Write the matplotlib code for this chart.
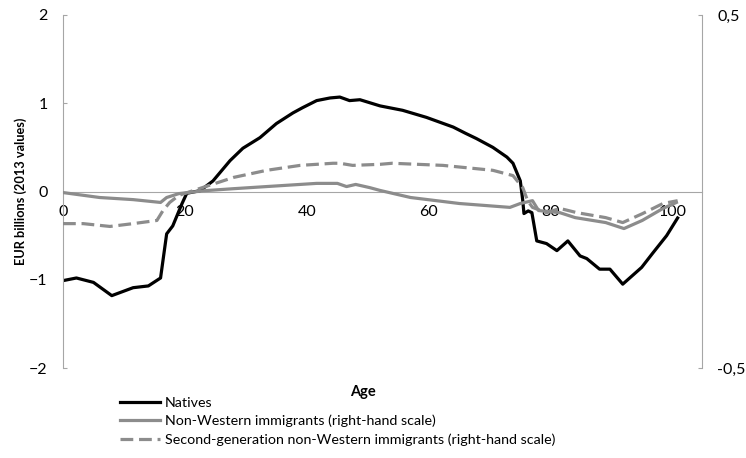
import matplotlib.pyplot as plt

# Natives (left scale, EUR billions)
natives_age = [0, 2.2, 5, 8, 11.5, 14, 16, 17, 18, 19.5, 20.3, 22.5, 24.6, 27.4, 29.5,
               32.3, 35, 37.7, 39.3, 41.6, 43.8, 45.4, 47, 48.7, 52, 55.7, 59.6, 64, 66,
               67.8, 70.5, 72.8, 73.8, 75, 75.4, 75.6, 76.3, 76.9, 77.7, 79.3, 81, 82.8,
               84.8, 85.9, 88, 89.7, 91.8, 94.9, 96.7, 99, 100.8]
natives_val = [-1.01, -0.98, -1.03, -1.18, -1.09, -1.07, -0.98, -0.48, -0.39, -0.14,
               -0.02, 0.01, 0.12, 0.35, 0.49, 0.61, 0.77, 0.89, 0.95, 1.03, 1.06, 1.07,
               1.03, 1.04, 0.97, 0.92, 0.84, 0.73, 0.66, 0.60, 0.50, 0.39, 0.32, 0.12,
               -0.10, -0.25, -0.22, -0.24, -0.56, -0.59, -0.67, -0.56, -0.73, -0.76,
               -0.88, -0.88, -1.05, -0.86, -0.70, -0.50, -0.30]

# Non-Western immigrants (right-hand scale)
immig_age = [0, 6, 11.5, 16, 17, 19, 23, 28, 33.4, 41.6, 45, 46.5, 48, 50.3, 52, 57, 65,
             73.3, 75, 77, 78, 81.5, 84, 89, 92, 95, 98.4, 100.6]
immig_val = [-0.003, -0.017, -0.023, -0.031, -0.017, -0.006, 0.002, 0.008, 0.014, 0.023,
             0.023, 0.014, 0.020, 0.011, 0.003, -0.017, -0.034, -0.045, -0.034, -0.026,
             -0.054, -0.060, -0.074, -0.088, -0.105, -0.082, -0.048, -0.031]

# Second-generation non-Western immigrants (right-hand scale)
second_age = [0, 3.3, 7.7, 11.5, 15.4, 16.4, 17.5, 19, 22.5, 28, 33.4, 38.9, 44.3, 45.4,
              47.5, 52, 54, 62.3, 70.5, 73.8, 75.4, 76.2, 77, 79.3, 81.5, 84.3, 89, 91.8,
              95, 98.4, 100.8]
second_val = [-0.091, -0.091, -0.099, -0.091, -0.082, -0.054, -0.031, -0.011, 0.009, 0.040,
              0.060, 0.074, 0.080, 0.080, 0.074, 0.077, 0.080, 0.074, 0.060, 0.045, 0.011,
              -0.026, -0.045, -0.060, -0.048, -0.060, -0.074, -0.088, -0.063, -0.034, -0.026]

left_ticks = [-2, -1, 0, 1, 2]
right_ticks = [-0.5, 0.5]
right_labels = ["-0,5", "0,5"]
x_ticks = [0, 20, 40, 60, 80, 100]

plt.rcParams["font.family"] = ["Lato", "DejaVu Sans"]
GRAY = "#8c8c8c"
AXIS = "#a6a6a6"

fig = plt.figure(figsize=(7.46, 4.58), dpi=100)
ax = fig.add_axes([63 / 746, 1 - 368 / 458, (702 - 63) / 746, (368 - 15) / 458])
ax2 = ax.twinx()

ln1, = ax.plot(natives_age, natives_val, color="black", lw=2.3, label="Natives")
ln2, = ax2.plot(immig_age, immig_val, color=GRAY, lw=2.3,
                label="Non-Western immigrants (right-hand scale)")
ln3, = ax2.plot(second_age, second_val, color=GRAY, lw=2.3, ls=(0, (4, 1.8)),
                label="Second-generation non-Western immigrants (right-hand scale)")

ax.set_xlim(0, 104.8)
ax.set_ylim(-2, 2)
ax2.set_ylim(-0.5, 0.5)
ax.set_yticks(left_ticks)
ax.set_xticks(x_ticks)
ax2.set_yticks(right_ticks)
ax2.set_yticklabels(right_labels)

for a in (ax, ax2):
    for s in a.spines.values():
        s.set_visible(False)
ax.spines["left"].set_visible(True)
ax.spines["left"].set_color(AXIS)
ax2.spines["right"].set_visible(True)
ax2.spines["right"].set_color(AXIS)
ax.spines["bottom"].set_visible(True)
ax.spines["bottom"].set_position(("data", 0))
ax.spines["bottom"].set_color(AXIS)
ax.spines["bottom"].set_zorder(0)

ax.tick_params(axis="y", direction="in", length=3, color=AXIS, labelsize=11.5, pad=11)
ax2.tick_params(axis="y", direction="in", length=3, color=AXIS, labelsize=11.5, pad=11)
ax.tick_params(axis="x", length=0, labelsize=11.5, pad=10)

ax.set_ylabel("EUR billions (2013 values)", fontsize=9.2, fontweight="bold")
ax.yaxis.set_label_coords(-36 / 639, 0.5)
fig.text(363 / 746, 1 - 392 / 458, "Age", ha="center", va="center",
         fontsize=10.5, fontweight="bold")

fig.legend(handles=[ln1, ln2, ln3], loc="upper left", bbox_to_anchor=(120 / 746, 1 - 397 / 458),
           frameon=False, fontsize=10.3, handlelength=2.8, handletextpad=0.35,
           labelspacing=0.4, borderpad=0, borderaxespad=0)

fig.savefig("out.png", dpi=100)
